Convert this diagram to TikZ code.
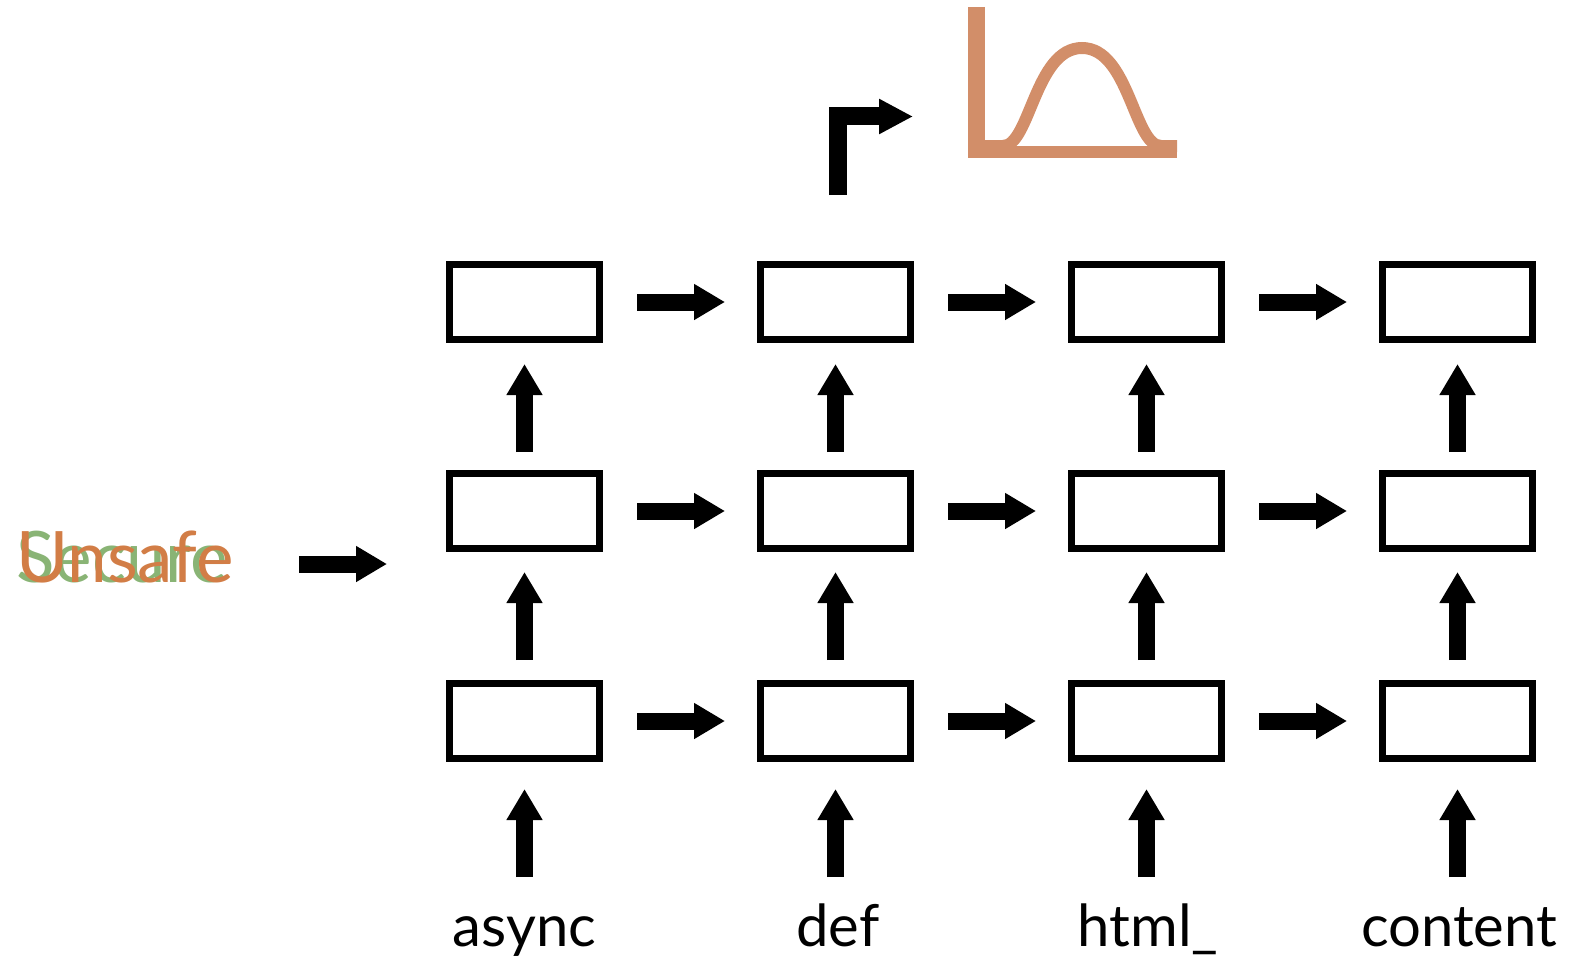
\documentclass[tikz,border=0pt]{standalone}
\usepackage{fontspec}
\setmainfont{Lato}
\usetikzlibrary{arrows.meta}
\definecolor{unsafeC}{RGB}{210,125,70}
\definecolor{secureC}{RGB}{137,180,117}
\definecolor{distC}{RGB}{210,142,105}
\begin{document}
\begin{tikzpicture}[x=1pt,y=-1pt,
  cell/.style={draw=black,line width=7pt,minimum width=150pt,minimum height=75pt,inner sep=0pt},
  fat/.style={line width=17pt,-{Triangle[length=31pt,width=34pt]}},
  lbl/.style={anchor=base,inner sep=0pt,font=\fontsize{58}{60}\selectfont},
  big/.style={anchor=base west,inner sep=0pt,font=\fontsize{71}{73}\selectfont}]
\useasboundingbox (0,0) rectangle (1573,963);
% cells
\foreach \c/\x in {1/524.5,2/835.5,3/1146.5,4/1457.5}{
  \node[cell] (t\c) at (\x,302) {};
  \node[cell] (m\c) at (\x,511) {};
  \node[cell] (b\c) at (\x,721) {};
  \coordinate (in\c) at (\x,877);
}
% horizontal arrows
\foreach \r in {t,m,b}{
  \foreach \a/\b in {1/2,2/3,3/4}{
    \draw[fat,shorten <=34pt,shorten >=32pt] (\r\a.east) -- (\r\b.west);
  }
}
% vertical arrows
\foreach \c in {1,2,3,4}{
  \draw[fat,shorten <=18pt,shorten >=21pt] (m\c.north) -- (t\c.south);
  \draw[fat,shorten <=20pt,shorten >=20pt] (b\c.north) -- (m\c.south);
  \draw[fat,shorten >=27pt] (in\c) -- (b\c.south);
}
% labels
\node[lbl] (l1) at (524.5,946) {async};
\node[lbl] (l2) at (838,946) {def};
\node[lbl] (l3) at (1148,946) {html\_};
\node[lbl] (l4) at (1459,946) {content};
% left text
\node[big,text=secureC] (secure) at (16,582) {Secure};
\node[big,text=unsafeC] (unsafe) at (16,582) {Unsafe};
\coordinate (lin) at (299,564);
\coordinate (lout) at (387,564);
\draw[fat] (lin) -- (lout);
% bent arrow
\coordinate (bs) at (838,195);
\coordinate (bc) at (838,116.5);
\coordinate (be) at (913,116.5);
\draw[line width=18pt,miter limit=10,-{Triangle[length=34pt,width=33pt]}] (bs) -- (bc) -- (be);
% distribution
\draw[distC,line width=17pt] (976.5,7) -- (976.5,152);
\draw[distC,line width=12pt] (968,152) -- (1177,152);
\draw[distC,line width=12pt] (985,146) -- (1003,146) .. controls (1030,146) and (1035,48) .. (1082,48) .. controls (1129,48) and (1134,146) .. (1161,146) -- (1177,146);
\end{tikzpicture}
\end{document}
